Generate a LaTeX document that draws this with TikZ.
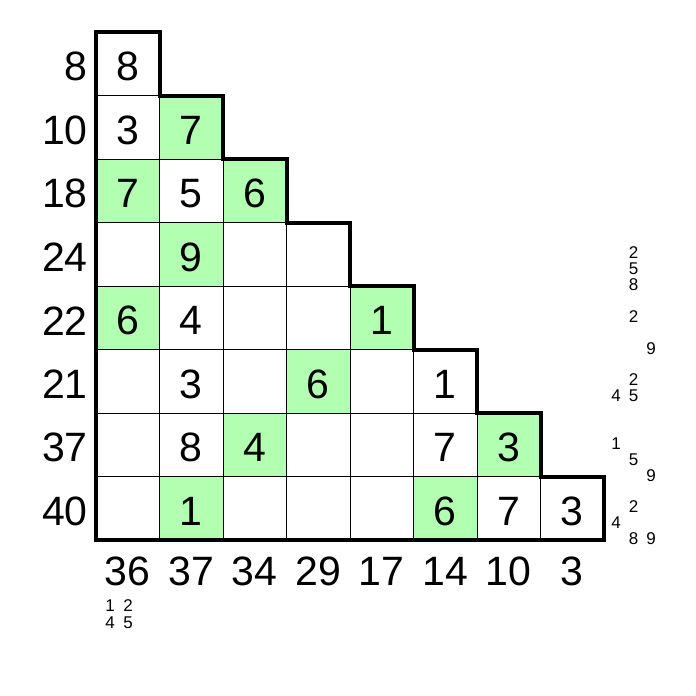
\documentclass[tikz,border=0pt]{standalone}
\usepackage{fontspec}
\setmainfont{Liberation Sans}

\tikzset{
  cell/.style={draw=black, line width=0.8pt, minimum size=63.5pt, inner sep=0pt, outer sep=0pt},
  given/.style={cell, fill=green!30},
  big/.style={font=\fontsize{41}{41}\selectfont, inner sep=0pt},
  cand/.style={font=\fontsize{17}{17}\selectfont, inner sep=0pt},
}

\begin{document}
\begin{tikzpicture}[x=1pt, y=-1pt]
\useasboundingbox (0,0) rectangle (696,696);

% cells of the staircase
\foreach \r in {0,...,7} {
  \foreach \c in {0,...,\r} {
    \node[cell] (c\r\c) at ({127.75+63.5*\c},{63.75+63.5*\r}) {};
  }
}
\foreach \r/\c in {1/1, 2/0, 2/2, 3/1, 4/0, 4/4, 5/3, 6/2, 6/6, 7/1, 7/5}
  \node[given] (g\r\c) at (c\r\c) {};

% thick outline
\draw[line width=4pt, line join=miter]
  (c00.north west) -- (c00.north east) -- (c00.south east)
  -- (c11.north east) -- (c11.south east) -- (c22.north east) -- (c22.south east)
  -- (c33.north east) -- (c33.south east) -- (c44.north east) -- (c44.south east)
  -- (c55.north east) -- (c55.south east) -- (c66.north east) -- (c66.south east)
  -- (c77.north east) -- (c77.south east) -- (c70.south west) -- cycle;

% digits in the cells
\foreach \r/\c/\v in {0/0/8, 1/0/3, 1/1/7, 2/0/7, 2/1/5, 2/2/6, 3/1/9,
    4/0/6, 4/1/4, 4/4/1, 5/1/3, 5/3/6, 5/5/1, 6/1/8, 6/2/4, 6/5/7, 6/6/3,
    7/1/1, 7/5/6, 7/6/7, 7/7/3}
  \node[big, yshift=-3pt] (n\r\c) at (c\r\c) {\v};

% sums
\foreach \v [count=\r from 0] in {8,10,18,24,22,21,37,40}
  \node[big, anchor=east] (row\r) at ([xshift=-8pt, yshift=-3pt]c\r0.west) {\v};
\foreach \v [count=\c from 0] in {36,37,34,29,17,14,10,3}
  \node[big] (col\c) at ([yshift=-31pt]c7\c.south) {\v};

% candidates
\foreach \r/\i/\j/\v in {3/0/1/2, 3/1/1/5, 3/2/1/8, 4/0/1/2, 4/2/2/9,
    5/0/1/2, 5/1/0/4, 5/1/1/5, 6/0/0/1, 6/1/1/5, 6/2/2/9,
    7/0/1/2, 7/1/0/4, 7/2/1/8, 7/2/2/9}
  \node[cand] (k\r\i\j) at ({616+17.5*\j},{62.5+63.5*\r+16*\i}) {\v};
\foreach \i/\j/\v in {0/0/1, 0/1/2, 1/0/4, 1/1/5}
  \node[cand] (b\i\j) at ({110+18*\j},{606+17*\i}) {\v};
\end{tikzpicture}
\end{document}
